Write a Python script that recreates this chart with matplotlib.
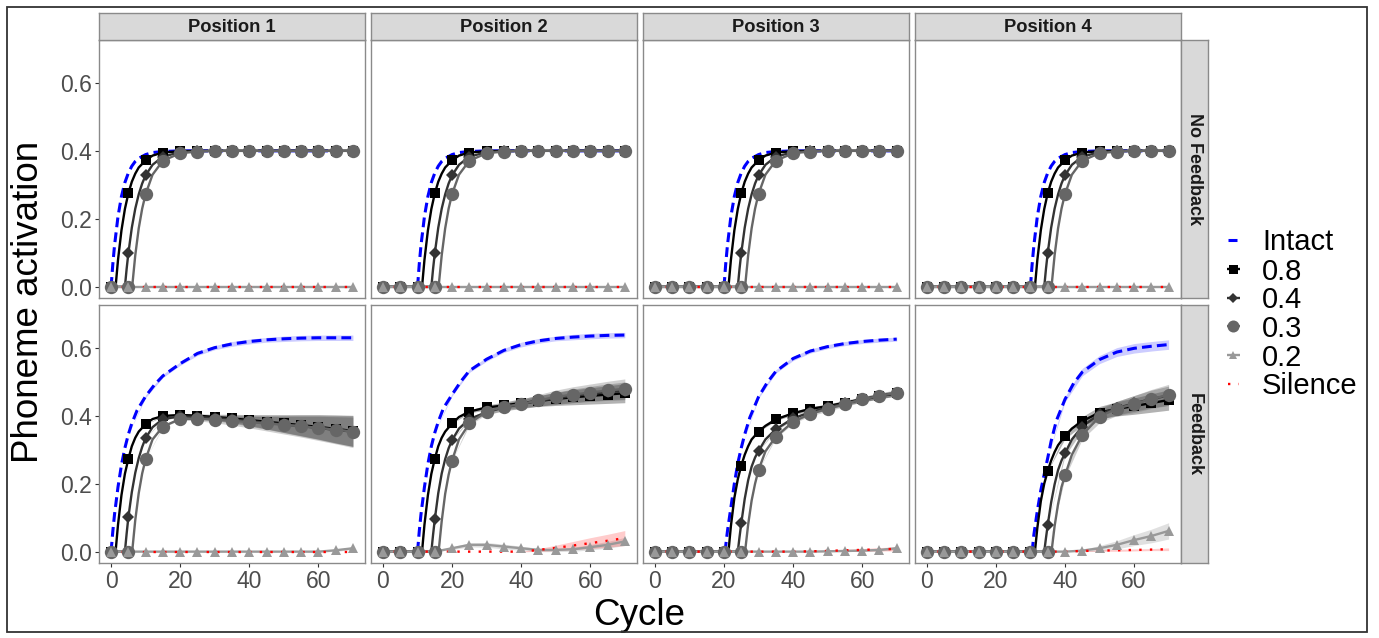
import numpy as np
import matplotlib
matplotlib.use("Agg")
import matplotlib.pyplot as plt
from matplotlib.patches import Rectangle

plt.rcParams['font.family'] = ['Liberation Sans', 'DejaVu Sans']

# ---------------------------------------------------------------- categories
POSITIONS = ["Position 1", "Position 2", "Position 3", "Position 4"]
CONDITIONS = ["No Feedback", "Feedback"]
SERIES = ["Intact", "0.8", "0.4", "0.3", "0.2", "Silence"]
CYCLES = [0, 5, 10, 15, 20, 25, 30, 35, 40, 45, 50, 55, 60, 65, 70]
X_TICKS = [0, 20, 40, 60]
Y_TICKS = [0.0, 0.2, 0.4, 0.6]
X_LABEL = "Cycle"
Y_LABEL = "Phoneme activation"

# ---------------------------------------------------------------- data
# (cycle, activation) pairs; markers sit at CYCLES
zero_line = [(0, 0), (5, 0), (10, 0), (15, 0), (20, 0), (25, 0), (30, 0), (35, 0),
             (40, 0), (45, 0), (50, 0), (55, 0), (60, 0), (65, 0), (70, 0)]

# --- No Feedback, Position 1
nf1_intact = [(0, 0), (0.5, 0.067), (1, 0.122), (2, 0.207), (3, 0.266), (4, 0.307), (5, 0.335), (6, 0.355), (7, 0.369), (8, 0.378), (10, 0.389), (12, 0.395), (15, 0.398), (20, 0.4), (25, 0.4), (30, 0.4), (35, 0.4), (40, 0.4), (45, 0.4), (50, 0.4), (55, 0.4), (60, 0.4), (65, 0.4), (70, 0.4)]
nf1_s08 = [(0, 0), (1.3, 0), (2, 0.079), (3, 0.166), (4, 0.229), (5, 0.275), (6, 0.309), (7, 0.333), (8, 0.351), (10, 0.372), (12, 0.386), (15, 0.395), (20, 0.399), (25, 0.4), (30, 0.4), (35, 0.4), (40, 0.4), (45, 0.4), (50, 0.4), (55, 0.4), (60, 0.4), (65, 0.4), (70, 0.4)]
nf1_s04 = [(0, 0), (4, 0), (4.5, 0.053), (5, 0.099), (6, 0.174), (7, 0.23), (8, 0.272), (9, 0.304), (10, 0.328), (12, 0.359), (15, 0.383), (20, 0.396), (25, 0.399), (30, 0.4), (35, 0.4), (40, 0.4), (45, 0.4), (50, 0.4), (55, 0.4), (60, 0.4), (65, 0.4), (70, 0.4)]
nf1_s03 = [(0, 0), (5, 0), (6.1, 0), (7, 0.093), (8, 0.172), (9, 0.23), (10, 0.273), (12, 0.33), (15, 0.371), (20, 0.393), (25, 0.398), (30, 0.4), (35, 0.4), (40, 0.4), (45, 0.4), (50, 0.4), (55, 0.4), (60, 0.4), (65, 0.4), (70, 0.4)]
nf1_s02 = zero_line
nf1_sil = zero_line

# --- No Feedback, Position 2
nf2_intact = [(10, 0), (10.5, 0.067), (11, 0.122), (12, 0.207), (13, 0.266), (14, 0.307), (15, 0.335), (16, 0.355), (17, 0.369), (18, 0.378), (20, 0.389), (22, 0.395), (25, 0.398), (30, 0.4), (35, 0.4), (40, 0.4), (45, 0.4), (50, 0.4), (55, 0.4), (60, 0.4), (65, 0.4), (70, 0.4)]
nf2_s08 = [(0, 0), (5, 0), (10, 0), (11.3, 0), (12, 0.079), (13, 0.166), (14, 0.229), (15, 0.275), (16, 0.309), (17, 0.333), (18, 0.351), (20, 0.372), (22, 0.386), (25, 0.395), (30, 0.399), (35, 0.4), (40, 0.4), (45, 0.4), (50, 0.4), (55, 0.4), (60, 0.4), (65, 0.4), (70, 0.4)]
nf2_s04 = [(0, 0), (5, 0), (10, 0), (14, 0), (14.5, 0.053), (15, 0.099), (16, 0.174), (17, 0.23), (18, 0.272), (19, 0.304), (20, 0.328), (22, 0.359), (25, 0.383), (30, 0.396), (35, 0.399), (40, 0.4), (45, 0.4), (50, 0.4), (55, 0.4), (60, 0.4), (65, 0.4), (70, 0.4)]
nf2_s03 = [(0, 0), (5, 0), (10, 0), (15, 0), (16.1, 0), (17, 0.093), (18, 0.172), (19, 0.23), (20, 0.273), (22, 0.33), (25, 0.371), (30, 0.393), (35, 0.398), (40, 0.4), (45, 0.4), (50, 0.4), (55, 0.4), (60, 0.4), (65, 0.4), (70, 0.4)]
nf2_s02 = zero_line
nf2_sil = zero_line

# --- No Feedback, Position 3
nf3_intact = [(20, 0), (20.5, 0.067), (21, 0.122), (22, 0.207), (23, 0.266), (24, 0.307), (25, 0.335), (26, 0.355), (27, 0.369), (28, 0.378), (30, 0.389), (32, 0.395), (35, 0.398), (40, 0.4), (45, 0.4), (50, 0.4), (55, 0.4), (60, 0.4), (65, 0.4), (70, 0.4)]
nf3_s08 = [(0, 0), (5, 0), (10, 0), (15, 0), (20, 0), (21.3, 0), (22, 0.079), (23, 0.166), (24, 0.229), (25, 0.275), (26, 0.309), (27, 0.333), (28, 0.351), (30, 0.372), (32, 0.386), (35, 0.395), (40, 0.399), (45, 0.4), (50, 0.4), (55, 0.4), (60, 0.4), (65, 0.4), (70, 0.4)]
nf3_s04 = [(0, 0), (5, 0), (10, 0), (15, 0), (20, 0), (24, 0), (24.5, 0.053), (25, 0.099), (26, 0.174), (27, 0.23), (28, 0.272), (29, 0.304), (30, 0.328), (32, 0.359), (35, 0.383), (40, 0.396), (45, 0.399), (50, 0.4), (55, 0.4), (60, 0.4), (65, 0.4), (70, 0.4)]
nf3_s03 = [(0, 0), (5, 0), (10, 0), (15, 0), (20, 0), (25, 0), (26.1, 0), (27, 0.093), (28, 0.172), (29, 0.23), (30, 0.273), (32, 0.33), (35, 0.371), (40, 0.393), (45, 0.398), (50, 0.4), (55, 0.4), (60, 0.4), (65, 0.4), (70, 0.4)]
nf3_s02 = zero_line
nf3_sil = zero_line

# --- No Feedback, Position 4
nf4_intact = [(30, 0), (30.5, 0.067), (31, 0.122), (32, 0.207), (33, 0.266), (34, 0.307), (35, 0.335), (36, 0.355), (37, 0.369), (38, 0.378), (40, 0.389), (42, 0.395), (45, 0.398), (50, 0.4), (55, 0.4), (60, 0.4), (65, 0.4), (70, 0.4)]
nf4_s08 = [(0, 0), (5, 0), (10, 0), (15, 0), (20, 0), (25, 0), (30, 0), (31.3, 0), (32, 0.079), (33, 0.166), (34, 0.229), (35, 0.275), (36, 0.309), (37, 0.333), (38, 0.351), (40, 0.372), (42, 0.386), (45, 0.395), (50, 0.399), (55, 0.4), (60, 0.4), (65, 0.4), (70, 0.4)]
nf4_s04 = [(0, 0), (5, 0), (10, 0), (15, 0), (20, 0), (25, 0), (30, 0), (34, 0), (34.5, 0.053), (35, 0.099), (36, 0.174), (37, 0.23), (38, 0.272), (39, 0.304), (40, 0.328), (42, 0.359), (45, 0.383), (50, 0.396), (55, 0.399), (60, 0.4), (65, 0.4), (70, 0.4)]
nf4_s03 = [(0, 0), (5, 0), (10, 0), (15, 0), (20, 0), (25, 0), (30, 0), (35, 0), (36.1, 0), (37, 0.093), (38, 0.172), (39, 0.23), (40, 0.273), (42, 0.33), (45, 0.371), (50, 0.393), (55, 0.398), (60, 0.4), (65, 0.4), (70, 0.4)]
nf4_s02 = zero_line
nf4_sil = zero_line

# --- Feedback, Position 1
fb1_intact = [(0, 0), (0.5, 0.06), (1, 0.11), (2, 0.19), (3, 0.255), (4, 0.305), (5, 0.345), (6, 0.377), (7.5, 0.415), (10, 0.457), (12.5, 0.49), (15, 0.517), (20, 0.553), (25, 0.583), (30, 0.6), (35, 0.611), (40, 0.618), (45, 0.623), (50, 0.626), (55, 0.628), (60, 0.629), (65, 0.629), (70, 0.629)]
fb1_s08 = [(0, 0), (1.3, 0), (2, 0.079), (3, 0.166), (4, 0.229), (5, 0.273), (6, 0.31), (7, 0.335), (8, 0.353), (10, 0.375), (12, 0.39), (15, 0.399), (20, 0.402), (25, 0.4), (30, 0.396), (35, 0.392), (40, 0.387), (45, 0.382), (50, 0.377), (55, 0.372), (60, 0.367), (65, 0.361), (70, 0.355)]
fb1_s04 = [(0, 0), (4, 0), (4.5, 0.053), (5, 0.101), (6, 0.175), (7, 0.232), (8, 0.275), (9, 0.308), (10, 0.334), (12, 0.366), (15, 0.39), (20, 0.398), (25, 0.396), (30, 0.393), (35, 0.389), (40, 0.384), (45, 0.379), (50, 0.374), (55, 0.369), (60, 0.364), (65, 0.358), (70, 0.353)]
fb1_s03 = [(0, 0), (5, 0), (6.1, 0), (7, 0.093), (8, 0.172), (9, 0.23), (10, 0.272), (12, 0.33), (15, 0.368), (20, 0.39), (25, 0.391), (30, 0.388), (35, 0.385), (40, 0.381), (45, 0.377), (50, 0.373), (55, 0.369), (60, 0.364), (65, 0.359), (70, 0.353)]
fb1_s02 = [(0, 0), (5, 0), (10, 0), (15, 0), (20, 0), (25, 0), (30, 0), (35, 0), (40, 0), (45, 0), (50, 0), (55, 0), (60, 0), (65, 0.004), (70, 0.01)]
fb1_sil = zero_line
# ribbon half-widths at CYCLES
fb1_hw_intact = [0, 0, 0.004, 0.005, 0.005, 0.006, 0.006, 0.007, 0.007, 0.007, 0.008, 0.008, 0.008, 0.008, 0.008]
fb1_hw_s08 = [0, 0, 0, 0.002, 0.003, 0.005, 0.008, 0.012, 0.016, 0.021, 0.026, 0.031, 0.036, 0.041, 0.046]
fb1_hw_s04 = [0, 0, 0, 0.002, 0.003, 0.005, 0.008, 0.011, 0.015, 0.019, 0.024, 0.029, 0.034, 0.039, 0.043]
fb1_hw_s03 = [0, 0, 0, 0.002, 0.003, 0.006, 0.009, 0.013, 0.017, 0.022, 0.027, 0.032, 0.037, 0.042, 0.047]
fb1_hw_s02 = [0, 0, 0, 0, 0, 0, 0, 0, 0, 0, 0, 0, 0.002, 0.003, 0.004]
fb1_hw_sil = [0, 0, 0, 0, 0, 0, 0, 0, 0, 0, 0, 0, 0, 0, 0]

# --- Feedback, Position 2
fb2_intact = [(10, 0), (10.5, 0.06), (11, 0.11), (12, 0.19), (13, 0.258), (14, 0.31), (15, 0.35), (16, 0.382), (17.5, 0.422), (20, 0.462), (22.5, 0.5), (25, 0.532), (30, 0.566), (35, 0.592), (40, 0.609), (45, 0.62), (50, 0.627), (55, 0.631), (60, 0.634), (65, 0.636), (70, 0.637)]
fb2_s08 = [(0, 0), (5, 0), (10, 0), (11.3, 0), (12, 0.079), (13, 0.166), (14, 0.229), (15, 0.273), (16, 0.31), (17, 0.335), (18, 0.353), (20, 0.377), (22, 0.396), (25, 0.412), (30, 0.424), (35, 0.43), (40, 0.437), (45, 0.443), (50, 0.449), (55, 0.454), (60, 0.458), (65, 0.462), (70, 0.466)]
fb2_s04 = [(0, 0), (5, 0), (10, 0), (14, 0), (14.5, 0.05), (15, 0.095), (16, 0.172), (17, 0.23), (18, 0.272), (19, 0.304), (20, 0.328), (22, 0.362), (25, 0.39), (30, 0.41), (35, 0.424), (40, 0.434), (45, 0.443), (50, 0.451), (55, 0.458), (60, 0.464), (65, 0.469), (70, 0.473)]
fb2_s03 = [(0, 0), (5, 0), (10, 0), (15, 0), (16.1, 0), (17, 0.09), (18, 0.17), (19, 0.226), (20, 0.268), (22, 0.33), (25, 0.377), (30, 0.412), (35, 0.426), (40, 0.434), (45, 0.445), (50, 0.455), (55, 0.462), (60, 0.468), (65, 0.474), (70, 0.479)]
fb2_s02 = [(0, 0), (5, 0), (10, 0), (15, 0), (20, 0.01), (25, 0.02), (30, 0.02), (35, 0.015), (40, 0.01), (45, 0.005), (50, 0.005), (55, 0.007), (60, 0.013), (65, 0.02), (70, 0.03)]
fb2_sil = [(0, 0), (5, 0), (10, 0), (15, 0), (20, 0), (25, 0), (30, 0), (35, 0), (40, 0), (45, 0.005), (50, 0.011), (55, 0.018), (60, 0.025), (65, 0.032), (70, 0.04)]
fb2_hw_intact = [0, 0, 0, 0, 0.004, 0.005, 0.006, 0.006, 0.007, 0.007, 0.007, 0.008, 0.008, 0.008, 0.008]
fb2_hw_s08 = [0, 0, 0, 0, 0, 0.004, 0.007, 0.01, 0.013, 0.016, 0.019, 0.022, 0.024, 0.026, 0.028]
fb2_hw_s04 = [0, 0, 0, 0, 0, 0.004, 0.007, 0.01, 0.012, 0.015, 0.018, 0.02, 0.022, 0.024, 0.026]
fb2_hw_s03 = [0, 0, 0, 0, 0, 0.005, 0.008, 0.011, 0.014, 0.017, 0.02, 0.023, 0.025, 0.027, 0.029]
fb2_hw_s02 = [0, 0, 0, 0, 0.004, 0.006, 0.007, 0.007, 0.006, 0.005, 0.005, 0.006, 0.008, 0.01, 0.012]
fb2_hw_sil = [0, 0, 0, 0, 0, 0, 0, 0, 0.001, 0.004, 0.008, 0.012, 0.016, 0.019, 0.022]

# --- Feedback, Position 3
fb3_intact = [(20.3, 0), (21, 0.06), (22, 0.13), (23, 0.2), (24, 0.26), (25, 0.305), (26, 0.345), (27.5, 0.395), (30, 0.455), (32.5, 0.497), (35, 0.53), (40, 0.568), (45, 0.59), (50, 0.603), (55, 0.612), (60, 0.618), (65, 0.622), (70, 0.625)]
fb3_s08 = [(0, 0), (5, 0), (10, 0), (15, 0), (20, 0), (21.3, 0), (22, 0.075), (23, 0.158), (24, 0.213), (25, 0.253), (26, 0.285), (27, 0.31), (28, 0.33), (30, 0.353), (32, 0.37), (35, 0.389), (40, 0.407), (45, 0.42), (50, 0.428), (55, 0.438), (60, 0.448), (65, 0.458), (70, 0.466)]
fb3_s04 = [(0, 0), (5, 0), (10, 0), (15, 0), (20, 0), (24, 0), (24.5, 0.043), (25, 0.083), (26, 0.155), (27, 0.21), (28, 0.25), (29, 0.277), (30, 0.296), (32, 0.33), (35, 0.36), (40, 0.392), (45, 0.41), (50, 0.424), (55, 0.436), (60, 0.447), (65, 0.457), (70, 0.466)]
fb3_s03 = [(0, 0), (5, 0), (10, 0), (15, 0), (20, 0), (25, 0), (26.1, 0), (27, 0.08), (28, 0.15), (29, 0.2), (30, 0.24), (32, 0.295), (35, 0.338), (40, 0.382), (45, 0.405), (50, 0.42), (55, 0.434), (60, 0.448), (65, 0.458), (70, 0.468)]
fb3_s02 = [(0, 0), (5, 0), (10, 0), (15, 0), (20, 0), (25, 0), (30, 0), (35, 0), (40, 0), (45, 0), (50, 0.001), (55, 0.002), (60, 0.003), (65, 0.005), (70, 0.01)]
fb3_sil = [(0, 0), (5, 0), (10, 0), (15, 0), (20, 0), (25, 0), (30, 0), (35, 0), (40, 0), (45, 0.001), (50, 0.002), (55, 0.004), (60, 0.005), (65, 0.007), (70, 0.008)]
fb3_hw_intact = [0, 0, 0, 0, 0, 0, 0.004, 0.005, 0.006, 0.006, 0.006, 0.006, 0.006, 0.006, 0.006]
fb3_hw_s08 = [0, 0, 0, 0, 0, 0, 0, 0.004, 0.005, 0.006, 0.006, 0.007, 0.007, 0.008, 0.008]
fb3_hw_s04 = [0, 0, 0, 0, 0, 0, 0, 0.004, 0.005, 0.006, 0.006, 0.007, 0.007, 0.008, 0.008]
fb3_hw_s03 = [0, 0, 0, 0, 0, 0, 0, 0.004, 0.005, 0.006, 0.007, 0.007, 0.008, 0.008, 0.009]
fb3_hw_s02 = [0, 0, 0, 0, 0, 0, 0, 0, 0, 0, 0.001, 0.002, 0.002, 0.003, 0.004]
fb3_hw_sil = [0, 0, 0, 0, 0, 0, 0, 0, 0, 0.001, 0.002, 0.003, 0.004, 0.005, 0.006]

# --- Feedback, Position 4
fb4_intact = [(30.5, 0), (31, 0.05), (32, 0.12), (33, 0.18), (34, 0.228), (35, 0.275), (36, 0.325), (37.5, 0.385), (40, 0.448), (42.5, 0.495), (45, 0.528), (50, 0.565), (55, 0.587), (60, 0.598), (65, 0.604), (70, 0.609)]
fb4_s08 = [(0, 0), (5, 0), (10, 0), (15, 0), (20, 0), (25, 0), (30, 0), (31.3, 0), (32, 0.07), (33, 0.148), (34, 0.2), (35, 0.237), (36, 0.268), (37, 0.293), (38, 0.313), (40, 0.34), (42, 0.362), (45, 0.384), (50, 0.409), (55, 0.42), (60, 0.428), (65, 0.437), (70, 0.446)]
fb4_s04 = [(0, 0), (5, 0), (10, 0), (15, 0), (20, 0), (25, 0), (30, 0), (34, 0), (34.5, 0.04), (35, 0.078), (36, 0.145), (37, 0.198), (38, 0.24), (39, 0.268), (40, 0.289), (42, 0.33), (45, 0.368), (50, 0.405), (55, 0.422), (60, 0.436), (65, 0.449), (70, 0.459)]
fb4_s03 = [(0, 0), (5, 0), (10, 0), (15, 0), (20, 0), (25, 0), (30, 0), (35, 0), (36.1, 0), (37, 0.075), (38, 0.14), (39, 0.19), (40, 0.224), (42, 0.285), (45, 0.343), (50, 0.397), (55, 0.421), (60, 0.434), (65, 0.449), (70, 0.461)]
fb4_s02 = [(0, 0), (5, 0), (10, 0), (15, 0), (20, 0), (25, 0), (30, 0), (35, 0), (40, 0), (45, 0.003), (50, 0.01), (55, 0.02), (60, 0.034), (65, 0.046), (70, 0.061)]
fb4_sil = [(0, 0), (5, 0), (10, 0), (15, 0), (20, 0), (25, 0), (30, 0), (35, 0), (40, 0), (45, 0.002), (50, 0.003), (55, 0.004), (60, 0.005), (65, 0.006), (70, 0.007)]
fb4_hw_intact = [0, 0, 0, 0, 0, 0, 0, 0, 0.008, 0.011, 0.012, 0.013, 0.014, 0.014, 0.014]
fb4_hw_s08 = [0, 0, 0, 0, 0, 0, 0, 0, 0.008, 0.013, 0.018, 0.021, 0.024, 0.027, 0.03]
fb4_hw_s04 = [0, 0, 0, 0, 0, 0, 0, 0, 0.007, 0.012, 0.017, 0.02, 0.023, 0.026, 0.028]
fb4_hw_s03 = [0, 0, 0, 0, 0, 0, 0, 0, 0.006, 0.012, 0.018, 0.021, 0.025, 0.028, 0.031]
fb4_hw_s02 = [0, 0, 0, 0, 0, 0, 0, 0, 0, 0.003, 0.008, 0.012, 0.016, 0.02, 0.024]
fb4_hw_sil = [0, 0, 0, 0, 0, 0, 0, 0, 0, 0.001, 0.002, 0.003, 0.003, 0.003, 0.004]

PANEL_LINES = {
    (0, 0): [nf1_intact, nf1_s08, nf1_s04, nf1_s03, nf1_s02, nf1_sil],
    (0, 1): [nf2_intact, nf2_s08, nf2_s04, nf2_s03, nf2_s02, nf2_sil],
    (0, 2): [nf3_intact, nf3_s08, nf3_s04, nf3_s03, nf3_s02, nf3_sil],
    (0, 3): [nf4_intact, nf4_s08, nf4_s04, nf4_s03, nf4_s02, nf4_sil],
    (1, 0): [fb1_intact, fb1_s08, fb1_s04, fb1_s03, fb1_s02, fb1_sil],
    (1, 1): [fb2_intact, fb2_s08, fb2_s04, fb2_s03, fb2_s02, fb2_sil],
    (1, 2): [fb3_intact, fb3_s08, fb3_s04, fb3_s03, fb3_s02, fb3_sil],
    (1, 3): [fb4_intact, fb4_s08, fb4_s04, fb4_s03, fb4_s02, fb4_sil],
}
PANEL_HW = {
    (1, 0): [fb1_hw_intact, fb1_hw_s08, fb1_hw_s04, fb1_hw_s03, fb1_hw_s02, fb1_hw_sil],
    (1, 1): [fb2_hw_intact, fb2_hw_s08, fb2_hw_s04, fb2_hw_s03, fb2_hw_s02, fb2_hw_sil],
    (1, 2): [fb3_hw_intact, fb3_hw_s08, fb3_hw_s04, fb3_hw_s03, fb3_hw_s02, fb3_hw_sil],
    (1, 3): [fb4_hw_intact, fb4_hw_s08, fb4_hw_s04, fb4_hw_s03, fb4_hw_s02, fb4_hw_sil],
}

# ---------------------------------------------------------------- styles
STYLE = {
    "Intact":  dict(color="#0000FF", ls=(0, (3.2, 1.7)), lw=2.2, marker=None, ms=0, ralpha=0.2),
    "0.8":     dict(color="#000000", ls="-", lw=1.7, marker="s", ms=7.2, ralpha=0.3),
    "0.4":     dict(color="#333333", ls="-", lw=1.7, marker="D", ms=5.8, ralpha=0.3),
    "0.3":     dict(color="#666666", ls="-", lw=1.7, marker="o", ms=9.6, ralpha=0.3),
    "0.2":     dict(color="#999999", ls="-", lw=1.7, marker="^", ms=7.0, ralpha=0.3),
    "Silence": dict(color="#FF0000", ls=(0, (1, 3.5)), lw=1.7, marker=None, ms=0, ralpha=0.2),
}

W, H = 1379, 638
fig = plt.figure(figsize=(W / 100, H / 100), dpi=100)
fig.patch.set_facecolor("white")

COL_LEFT = [99, 370.9, 642.8, 914.7]
PANEL_W = 266
ROW_TOP = [40, 304.8]
PANEL_H = 258.4
STRIP_TOP_H = 27
STRIP_RIGHT_W = 27.5
BORDER = "#8A8A8A"


def fig_rect(x0, y0, w, h):
    return [x0 / W, 1 - (y0 + h) / H, w / W, h / H]


for r in range(2):
    for c in range(4):
        ax = fig.add_axes(fig_rect(COL_LEFT[c], ROW_TOP[r], PANEL_W, PANEL_H))
        ax.set_xlim(-3.5, 73.5)
        ax.set_ylim(-0.034, 0.726)
        ax.set_facecolor("white")
        for sp in ax.spines.values():
            sp.set_color(BORDER)
            sp.set_linewidth(1.0)
        lines = PANEL_LINES[(r, c)]
        hws = PANEL_HW.get((r, c))
        # ribbons
        if hws is not None:
            for name, pts, hw in zip(SERIES, lines, hws):
                st = STYLE[name]
                d = dict(pts)
                xs = [cy for cy in CYCLES if cy in d]
                ys = np.array([d[cy] for cy in xs])
                hh = np.array([hw[CYCLES.index(cy)] for cy in xs])
                ax.fill_between(xs, ys - hh, ys + hh, color=st["color"],
                                alpha=st["ralpha"], lw=0, zorder=1)
        # lines
        for name, pts in zip(SERIES, lines):
            st = STYLE[name]
            xs = [p[0] for p in pts]
            ys = [p[1] for p in pts]
            ax.plot(xs, ys, color=st["color"], ls=st["ls"], lw=st["lw"],
                    zorder=2, solid_capstyle="butt")
        # markers
        for name, pts in zip(SERIES, lines):
            st = STYLE[name]
            if st["marker"] is None:
                continue
            mx = [p[0] for p in pts if p[0] in CYCLES]
            my = [p[1] for p in pts if p[0] in CYCLES]
            ax.plot(mx, my, ls="none", marker=st["marker"], ms=st["ms"],
                    color=st["color"], mew=0, zorder=3)

        ax.set_xticks(X_TICKS)
        ax.set_yticks(Y_TICKS)
        ax.set_yticklabels([f"{v:.1f}" for v in Y_TICKS])
        ax.tick_params(axis="both", length=2.75, width=0.8, color="#333333",
                       labelsize=16.5, labelcolor="#4D4D4D", pad=2.2)
        if c != 0:
            ax.tick_params(axis="y", left=False, labelleft=False)
        if r != 1:
            ax.tick_params(axis="x", bottom=False, labelbottom=False)

# top strips
for c, pos in enumerate(POSITIONS):
    sax = fig.add_axes(fig_rect(COL_LEFT[c], ROW_TOP[0] - STRIP_TOP_H, PANEL_W, STRIP_TOP_H))
    sax.set_facecolor("#D9D9D9")
    sax.set_xticks([]); sax.set_yticks([])
    for sp in sax.spines.values():
        sp.set_color(BORDER); sp.set_linewidth(1.0)
    sax.text(0.5, 0.48, pos, ha="center", va="center", fontsize=13.2,
             fontweight="bold", color="#1A1A1A", transform=sax.transAxes)

# right strips
for r, cond in enumerate(CONDITIONS):
    sax = fig.add_axes(fig_rect(COL_LEFT[3] + PANEL_W, ROW_TOP[r], STRIP_RIGHT_W, PANEL_H))
    sax.set_facecolor("#D9D9D9")
    sax.set_xticks([]); sax.set_yticks([])
    for sp in sax.spines.values():
        sp.set_color(BORDER); sp.set_linewidth(1.0)
    sax.text(0.5, 0.5, cond, ha="center", va="center", rotation=-90, fontsize=13,
             fontweight="bold", color="#1A1A1A", transform=sax.transAxes)

# overlay in pixel coordinates for titles and legend
ov = fig.add_axes([0, 0, 1, 1], facecolor="none")
ov.set_xlim(0, W); ov.set_ylim(H, 0); ov.axis("off")

ov.text(639.5, 625, X_LABEL, ha="center", va="baseline", fontsize=26.5, color="black")
ov.text(38, 301.5, Y_LABEL, ha="center", va="baseline", rotation=90,
        rotation_mode="anchor", fontsize=26.5, color="black")

LEG_BASE = [250, 279.5, 308.3, 337, 365.7, 394.5]
LEG_CY = [239.5, 269, 297.5, 326, 354.5, 383.5]
for i, name in enumerate(SERIES):
    st = STYLE[name]
    y = LEG_CY[i]
    if name == "Intact":
        ov.plot([1228, 1237], [y, y], color=st["color"], lw=2.2, solid_capstyle="butt")
    elif name == "Silence":
        ov.plot([1227.5, 1238.5], [y, y], color=st["color"], ls=st["ls"], lw=st["lw"])
    else:
        ov.plot([1226.5, 1240], [y, y], color=st["color"], lw=st["lw"], solid_capstyle="butt")
        ov.plot([1233.3], [y], ls="none", marker=st["marker"], ms=st["ms"] * 0.9,
                color=st["color"], mew=0)
    ov.text(1262, LEG_BASE[i], name, ha="left", va="baseline", fontsize=21, color="black")

# outer frame
fig.add_artist(Rectangle((7 / W, 1 - 632 / H), (1367 - 7) / W, (632 - 7) / H,
                         transform=fig.transFigure, fill=False, edgecolor="#333333", lw=1.3))

fig.savefig("out.png", dpi=100, facecolor="white")
